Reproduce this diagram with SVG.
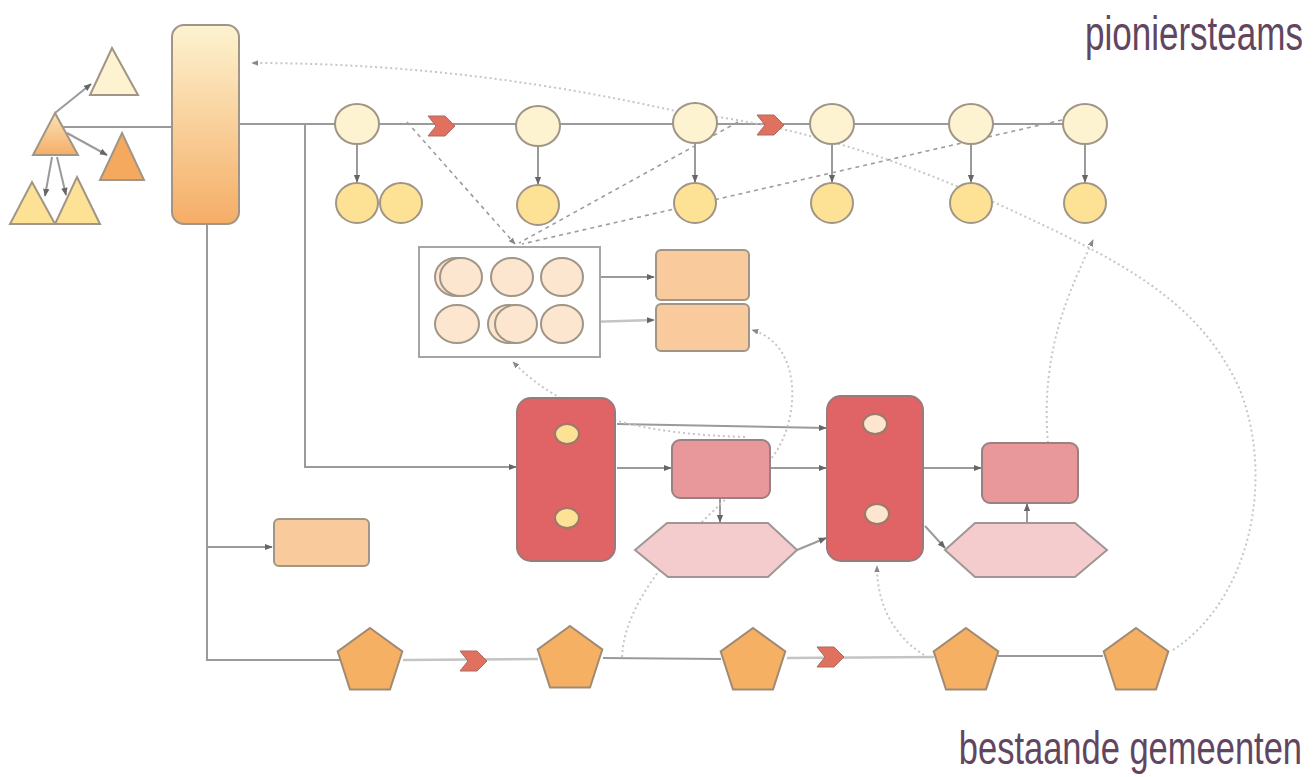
<svg xmlns="http://www.w3.org/2000/svg" width="1316" height="777" viewBox="0 0 1316 777">
<defs>
<linearGradient id="gCol" x1="0" y1="0" x2="0" y2="1"><stop offset="0" stop-color="#fdf3d0"/><stop offset="1" stop-color="#f5ad66"/></linearGradient>
<linearGradient id="gTri" x1="0" y1="0" x2="0" y2="1"><stop offset="0" stop-color="#fbe2b4"/><stop offset="1" stop-color="#f5ae68"/></linearGradient>
<marker id="ah" viewBox="0 0 10 10" refX="9" refY="5" markerWidth="8" markerHeight="8" markerUnits="userSpaceOnUse" orient="auto"><path d="M0,1 L10,5 L0,9 z" fill="#666"/></marker>
<marker id="ahl" viewBox="0 0 10 10" refX="9" refY="5" markerWidth="7" markerHeight="7" markerUnits="userSpaceOnUse" orient="auto"><path d="M0,1 L10,5 L0,9 z" fill="#888"/></marker>
<polygon id="pent" points="0,-34 32.3,-10.5 20,27.5 -20,27.5 -32.3,-10.5"/>
<polygon id="chev" points="0,0 17,0 27,10 17,20 0,20 8,10"/>
</defs>
<style>
.sh{stroke:#a09586;stroke-width:2}
.ln{fill:none;stroke:#9a9a9a;stroke-width:2}
.lnl{fill:none;stroke:#c4c4c4;stroke-width:2.5}
.dot{fill:none;stroke:#c6c6c6;stroke-width:2;stroke-dasharray:2 3}
.dash{fill:none;stroke:#9d9d9d;stroke-width:1.6;stroke-dasharray:4 4}
.c1{fill:#fdf3d0}
.c2{fill:#fde296}
.c3{fill:#fde6cf}
.ob{fill:#f9cb9c}
.red{fill:#e06466;stroke:#9a7a7a;stroke-width:2}
.pk{fill:#e8979a;stroke:#9a8080;stroke-width:2}
.hx{fill:#f5cccd;stroke:#a09696;stroke-width:2}
.pn{fill:#f5b064;stroke:#a08a74;stroke-width:2}
.cv{fill:#e0715f;stroke:#a86a62;stroke-width:1}
.lbl{font-family:"Liberation Sans",Arial,sans-serif;fill:#62465f;text-anchor:end}
</style>

<g id="connectors">
<line class="ln" x1="55" y1="113" x2="91" y2="84" marker-end="url(#ah)"/>
<line class="ln" x1="67" y1="133" x2="107" y2="155" marker-end="url(#ah)"/>
<line class="ln" x1="52" y1="157" x2="45" y2="196" marker-end="url(#ah)"/>
<line class="ln" x1="57" y1="157" x2="66" y2="195" marker-end="url(#ah)"/>
<line class="ln" x1="63" y1="127" x2="172" y2="127"/>
<line class="ln" x1="239" y1="124" x2="1085" y2="124"/>
<polyline class="ln" points="305,124 305,467 516,467" marker-end="url(#ah)"/>
<polyline class="ln" points="207,224 207,660 340,660"/>
<line class="ln" x1="207" y1="547" x2="272" y2="547" marker-end="url(#ah)"/>
<line class="ln" x1="357" y1="145" x2="357" y2="182" marker-end="url(#ah)"/>
<line class="ln" x1="538" y1="146" x2="538" y2="184" marker-end="url(#ah)"/>
<line class="ln" x1="695" y1="144" x2="695" y2="182" marker-end="url(#ah)"/>
<line class="ln" x1="832" y1="144" x2="832" y2="182" marker-end="url(#ah)"/>
<line class="ln" x1="971" y1="144" x2="971" y2="182" marker-end="url(#ah)"/>
<line class="ln" x1="1085" y1="144" x2="1085" y2="182" marker-end="url(#ah)"/>
<line class="ln" x1="588" y1="277" x2="654" y2="277" marker-end="url(#ah)"/>
<line class="lnl" x1="588" y1="322" x2="654" y2="320" marker-end="url(#ah)"/>
<line class="ln" x1="617" y1="424" x2="826" y2="428" marker-end="url(#ah)"/>
<line class="ln" x1="617" y1="468" x2="671" y2="468" marker-end="url(#ah)"/>
<line class="ln" x1="770" y1="468" x2="826" y2="468" marker-end="url(#ah)"/>
<line class="ln" x1="720" y1="498" x2="720" y2="522" marker-end="url(#ah)"/>
<line class="ln" x1="797" y1="550" x2="826" y2="538" marker-end="url(#ah)"/>
<line class="ln" x1="923" y1="468" x2="981" y2="468" marker-end="url(#ah)"/>
<line class="ln" x1="925" y1="526" x2="945" y2="548" marker-end="url(#ah)"/>
<line class="ln" x1="1027" y1="522" x2="1027" y2="504" marker-end="url(#ah)"/>
<line class="lnl" x1="403" y1="660" x2="538" y2="659"/>
<line class="ln" x1="603" y1="658" x2="721" y2="659"/>
<line class="lnl" x1="787" y1="658" x2="934" y2="657"/>
<line class="ln" x1="998" y1="656" x2="1103" y2="656"/>
<line class="dash" x1="407" y1="122" x2="515" y2="244" marker-end="url(#ahl)"/>
<line class="dash" x1="738" y1="122" x2="519" y2="243"/>
<line class="dash" x1="1062" y1="120" x2="522" y2="244"/>
<path class="dot" d="M1173,650 C1250,600 1275,480 1240,390 C1200,300 1120,260 1000,205 C900,160 800,125 680,112 C560,85 420,63 252,63" marker-end="url(#ahl)"/>
<path class="dot" d="M1048,443 C1040,350 1070,290 1093,240" marker-end="url(#ahl)"/>
<path class="dot" d="M622,657 C625,590 700,520 770,460 C800,425 805,345 752,330" marker-end="url(#ahl)"/>
<path class="dot" d="M745,437 C650,434 570,420 513,362" marker-end="url(#ahl)"/>
<path class="dot" d="M924,655 C900,640 877,612 877,566" marker-end="url(#ahl)"/>
</g>

<g id="triangles">
<polygon id="tri-top" class="sh c1" points="112,48 138,95 90,95"/>
<polygon id="tri-parent" class="sh" fill="url(#gTri)" points="55,113 78,155 33,155"/>
<polygon id="tri-right" class="sh" fill="#f4a95e" points="122,133 144,180 100,180"/>
<polygon id="tri-bl" class="sh c2" points="32,182 55,224 10,224"/>
<polygon id="tri-br" class="sh c2" points="77,177 100,224 55,224"/>
</g>

<g id="column"><rect class="sh" fill="url(#gCol)" x="172" y="25" width="67" height="199" rx="12"/></g>

<g id="top-row">
<ellipse class="sh c1" cx="357" cy="124" rx="22" ry="20"/>
<ellipse class="sh c1" cx="538" cy="126" rx="22" ry="20"/>
<ellipse class="sh c1" cx="695" cy="123" rx="22" ry="20"/>
<ellipse class="sh c1" cx="832" cy="124" rx="22" ry="20"/>
<ellipse class="sh c1" cx="971" cy="124" rx="22" ry="20"/>
<ellipse class="sh c1" cx="1085" cy="124" rx="22" ry="20"/>
</g>
<g id="bottom-row">
<ellipse class="sh c2" cx="357" cy="203" rx="21" ry="20"/>
<ellipse class="sh c2" cx="401" cy="203" rx="21" ry="20"/>
<ellipse class="sh c2" cx="538" cy="205" rx="21" ry="20"/>
<ellipse class="sh c2" cx="695" cy="203" rx="21" ry="20"/>
<ellipse class="sh c2" cx="832" cy="203" rx="21" ry="20"/>
<ellipse class="sh c2" cx="971" cy="203" rx="21" ry="20"/>
<ellipse class="sh c2" cx="1085" cy="203" rx="21" ry="20"/>
</g>

<g id="chevrons">
<use href="#chev" class="cv" x="428" y="116"/>
<use href="#chev" class="cv" x="757" y="115"/>
<use href="#chev" class="cv" x="460" y="651"/>
<use href="#chev" class="cv" x="817" y="647"/>
</g>

<g id="grid">
<rect x="419" y="247" width="181" height="110" fill="#fff" stroke="#a6a6a6" stroke-width="2"/>
<ellipse class="sh c3" cx="456" cy="277" rx="21" ry="19"/>
<ellipse class="sh c3" cx="461" cy="277" rx="21" ry="19"/>
<ellipse class="sh c3" cx="512" cy="277" rx="21" ry="19"/>
<ellipse class="sh c3" cx="562" cy="277" rx="21" ry="19"/>
<ellipse class="sh c3" cx="457" cy="324" rx="22" ry="19"/>
<ellipse class="sh c3" cx="509" cy="324" rx="21" ry="19"/>
<ellipse class="sh c3" cx="516" cy="324" rx="21" ry="19"/>
<ellipse class="sh c3" cx="562" cy="324" rx="21" ry="19"/>
</g>

<g id="box-a"><rect class="sh ob" x="656" y="250" width="93" height="50" rx="5"/></g>
<g id="box-b"><rect class="sh ob" x="656" y="304" width="93" height="47" rx="5"/></g>
<g id="box-c"><rect class="sh ob" x="274" y="519" width="95" height="47" rx="5"/></g>

<g id="red-1">
<rect class="red" x="517" y="398" width="98" height="163" rx="14"/>
<ellipse class="sh c2" cx="567" cy="434" rx="12" ry="10" style="stroke:#9a7a6a"/>
<ellipse class="sh c2" cx="567" cy="518" rx="12" ry="10" style="stroke:#9a7a6a"/>
</g>
<g id="pink-1"><rect class="pk" x="672" y="440" width="98" height="58" rx="8"/></g>
<g id="hex-1"><polygon class="hx" points="635,550 667,523 768,523 797,550 768,577 668,577"/></g>
<g id="red-2">
<rect class="red" x="827" y="396" width="96" height="165" rx="14"/>
<ellipse class="sh c3" cx="875" cy="424" rx="12" ry="10" style="stroke:#9a7a6a"/>
<ellipse class="sh c3" cx="877" cy="514" rx="12" ry="10" style="stroke:#9a7a6a"/>
</g>
<g id="pink-2"><rect class="pk" x="982" y="443" width="96" height="60" rx="8"/></g>
<g id="hex-2"><polygon class="hx" points="945,550 975,523 1075,523 1107,550 1075,577 975,577"/></g>

<g id="pentagons">
<use href="#pent" class="pn" x="370" y="662"/>
<use href="#pent" class="pn" x="570" y="660"/>
<use href="#pent" class="pn" x="753" y="662"/>
<use href="#pent" class="pn" x="966" y="662"/>
<use href="#pent" class="pn" x="1136" y="662"/>
</g>

<g id="labels">
<text class="lbl" transform="translate(1303,50) scale(0.73,1)" x="0" y="0" font-size="48">pioniersteams</text>
<text class="lbl" transform="translate(1302,764) scale(0.75,1)" x="0" y="0" font-size="46">bestaande gemeenten</text>
</g>
</svg>
